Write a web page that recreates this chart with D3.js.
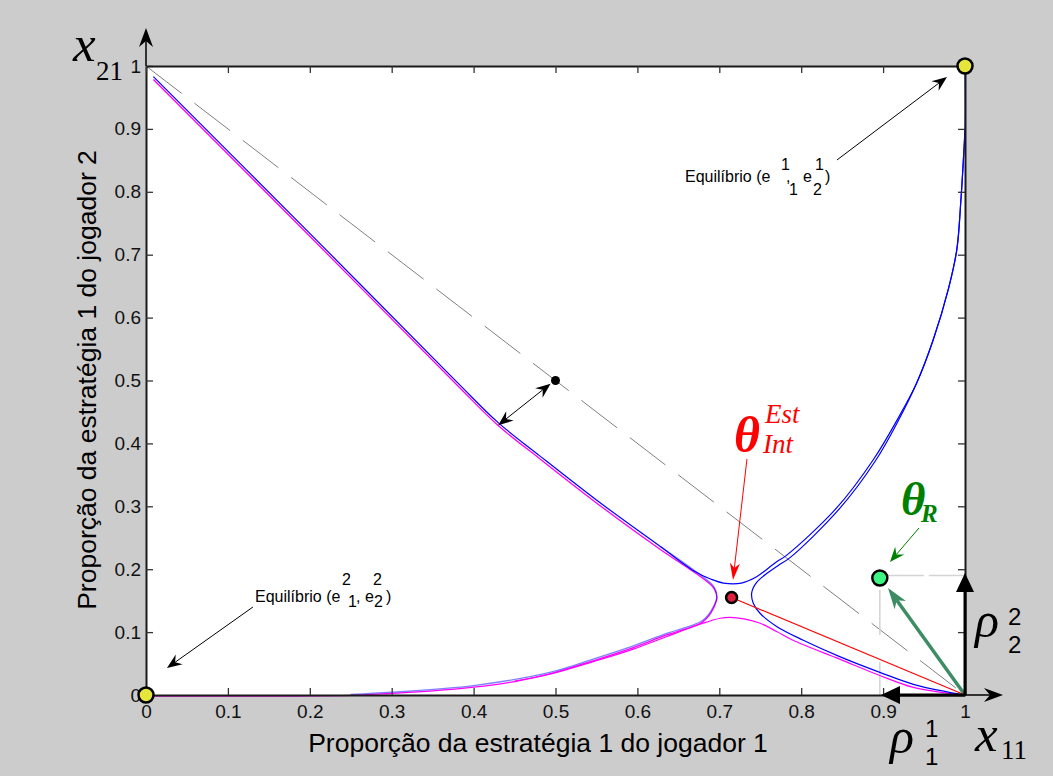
<!DOCTYPE html>
<html>
<head>
<meta charset="utf-8">
<script src="https://cdn.jsdelivr.net/npm/d3@7"></script>
<style>
  body { margin: 0; background: #cccccc; }
  svg { display: block; }
</style>
</head>
<body>
<svg id="chart"></svg>
<script>
const width = 1053, height = 776
const plot = { left: 146, right: 965, top: 66, bottom: 695 }

// tick values for both axes
const ticks = [0, 0.1, 0.2, 0.3, 0.4, 0.5, 0.6, 0.7, 0.8, 0.9, 1]
const tickLabels = ['0', '0.1', '0.2', '0.3', '0.4', '0.5', '0.6', '0.7', '0.8', '0.9', '1']

// curves (x11, x21)
const blueUpper = [[0.009,0.983],[0.2,0.734],[0.38,0.497],[0.43,0.433],[0.48,0.381],[0.55,0.31],[0.628,0.236],
  [0.668,0.198],[0.69,0.184],[0.705,0.178],[0.727,0.178],[0.7456,0.188],
  [0.77,0.212],[0.782,0.222],[0.843,0.297],[0.888,0.374],[0.917,0.437],[0.941,0.496],[0.961,0.564],[0.98,0.647],
  [0.99,0.708],[0.995,0.787],[0.998,0.85],[1,0.9],[1,1]]
const blueInner = [[1,0.9],[0.998,0.85],[0.995,0.787],[0.99,0.708],[0.98,0.647],[0.961,0.564],[0.941,0.496],
  [0.9185,0.436],[0.8905,0.372],[0.846,0.295],[0.786,0.218],[0.772,0.206],[0.76,0.195],[0.7456,0.179],
  [0.7395,0.162],[0.7415,0.146],[0.7497,0.13],[0.77,0.109],[0.8026,0.087],[0.847,0.061],[0.896,0.036],
  [0.937,0.017],[0.978,0.005],[1,0]]
const blueLower = [[0.25,0.001],[0.3,0.0045],[0.4,0.015],[0.493,0.036],[0.546,0.057],[0.595,0.078],[0.636,0.098],
  [0.665,0.11],[0.679,0.118],[0.687,0.128],[0.693,0.141],[0.697,0.156],[0.694,0.171],[0.684,0.184],[0.66,0.207],[0.628,0.236]]
const magentaSep = [[0.009,0.98],[0.2,0.731],[0.38,0.494],[0.43,0.43],[0.48,0.378],[0.55,0.307],[0.628,0.233],
  [0.66,0.205],[0.684,0.183],[0.694,0.17],[0.697,0.155],[0.693,0.14],[0.687,0.127],[0.679,0.117],[0.665,0.109],
  [0.636,0.097],[0.595,0.077],[0.546,0.056],[0.493,0.035],[0.45,0.023],[0.4,0.014],
  [0.35,0.008],[0.298,0.004],[0.25,0.001],[0.188,0],[0,0]]
const magentaHump = [[0.45,0.022],[0.493,0.033],[0.546,0.053],[0.595,0.073],[0.636,0.093],[0.68,0.114],[0.701,0.122],
  [0.713,0.1235],[0.73,0.121],[0.75,0.114],[0.77,0.101],[0.79,0.087],[0.847,0.057],[0.896,0.031],[0.937,0.012],
  [0.978,0.003],[1,0]]
const redLine = [[0.715,0.155],[1,0]]
const diagonal = [[0,1],[1,0]]

// points
const equilibria = [[0,0],[1,1]]
const interiorPoint = [0.715, 0.155]
const restPoint = [0.896, 0.186]
const midPoint = [0.5, 0.5]

const svg = d3.select('#chart').attr('width', width).attr('height', height)
const x = d3.scaleLinear().domain([0, 1]).range([plot.left, plot.right])
const y = d3.scaleLinear().domain([0, 1]).range([plot.bottom, plot.top])
const P = d => [x(d[0]), y(d[1])]

const SANS = '"Liberation Sans", Arial, sans-serif'
const SERIF = '"Liberation Serif", "Times New Roman", serif'

svg.append('rect').attr('width', width).attr('height', height).attr('fill', '#cccccc')
svg.append('rect')
  .attr('x', plot.left).attr('y', plot.top)
  .attr('width', plot.right - plot.left).attr('height', plot.bottom - plot.top)
  .attr('fill', '#ffffff')

const line = d3.line().x(d => x(d[0])).y(d => y(d[1]))
const smooth = d3.line().x(d => x(d[0])).y(d => y(d[1])).curve(d3.curveCatmullRom.alpha(0.5))

// diagonal dashed line
svg.append('path').attr('d', line(diagonal))
  .attr('fill', 'none').attr('stroke', '#808080').attr('stroke-width', 1)
  .attr('stroke-dasharray', '45,16')

// projection lines of the rest point
svg.append('path').attr('d', line([[restPoint[0], restPoint[1] + 0.004], [1, restPoint[1] + 0.004]]))
  .attr('stroke', '#d4d4d4').attr('stroke-width', 1.5).attr('stroke-dasharray', '44,5')
svg.append('path').attr('d', line([[restPoint[0], restPoint[1]], [restPoint[0], 0]]))
  .attr('stroke', '#d4d4d4').attr('stroke-width', 1.5).attr('stroke-dasharray', '0,12,45,15')

// curves
const curves = svg.append('g').attr('fill', 'none').attr('stroke-linejoin', 'round')
curves.append('path').attr('d', smooth(magentaSep)).attr('stroke', '#ff00ff').attr('stroke-width', 1.3)
  .attr('transform', 'translate(0,1)')
curves.append('path').attr('d', smooth(magentaHump)).attr('stroke', '#ff00ff').attr('stroke-width', 1.2)
curves.append('path').attr('d', smooth(blueLower)).attr('stroke', '#0000ff').attr('stroke-width', 1.3)
  .attr('stroke-opacity', 0.5)
curves.append('path').attr('d', smooth(blueUpper)).attr('stroke', '#0000ff').attr('stroke-width', 1.2)
curves.append('path').attr('d', smooth(blueInner)).attr('stroke', '#0000ff').attr('stroke-width', 1.2)
curves.append('path').attr('d', line(redLine)).attr('stroke', '#ff0000').attr('stroke-width', 1.1)

// axes (box with inward ticks)
const fmt = d => tickLabels[ticks.indexOf(d)]
const axStyle = g => {
  g.select('.domain').attr('stroke', '#1a1a1a').attr('stroke-width', 2)
  g.selectAll('.tick line').attr('stroke', '#333').attr('stroke-width', 1.3)
  g.selectAll('.tick text').attr('fill', '#111').attr('font-family', SANS).attr('font-size', 19)
}
svg.append('g').attr('transform', `translate(0,${plot.bottom})`)
  .call(d3.axisBottom(x).tickValues(ticks).tickFormat(fmt).tickSize(-7).tickSizeOuter(0).tickPadding(10))
  .call(axStyle)
svg.append('g').attr('transform', `translate(${plot.left},0)`)
  .call(d3.axisLeft(y).tickValues(ticks).tickFormat(fmt).tickSize(-7).tickSizeOuter(0).tickPadding(5))
  .call(axStyle)
svg.append('g').attr('transform', `translate(0,${plot.top})`)
  .call(d3.axisTop(x).tickValues(ticks).tickFormat('').tickSize(-7).tickSizeOuter(0))
  .call(axStyle)
svg.append('g').attr('transform', `translate(${plot.right},0)`)
  .call(d3.axisRight(y).tickValues(ticks).tickFormat('').tickSize(-7).tickSizeOuter(0))
  .call(axStyle)

// arrows
function arrow(from, to, o) {
  const a = P(from), b = P(to)
  const g = svg.append('g')
  const head = (tip, src) => {
    const dx = tip[0] - src[0], dy = tip[1] - src[1], d = Math.hypot(dx, dy)
    const ux = dx / d, uy = dy / d, nx = -uy, ny = ux
    const bx = tip[0] - o.len * ux, by = tip[1] - o.len * uy
    const mx = tip[0] - (o.len - o.notch) * ux, my = tip[1] - (o.len - o.notch) * uy
    g.append('path')
      .attr('d', `M${tip[0]},${tip[1]}L${bx + o.w * nx},${by + o.w * ny}L${mx},${my}L${bx - o.w * nx},${by - o.w * ny}Z`)
      .attr('fill', o.color)
    return [mx, my]
  }
  let end = b, start = a
  end = head(b, a)
  if (o.both) start = head(a, b)
  g.insert('line', 'path').attr('x1', start[0]).attr('y1', start[1]).attr('x2', end[0]).attr('y2', end[1])
    .attr('stroke', o.color).attr('stroke-width', o.width)
}

const thin = { color: '#000', width: 1, len: 15, w: 6, notch: 5 }
arrow([0.8437, 0.8506], [0.978, 0.9825], thin)
arrow([0.1306, 0.1399], [0.0256, 0.0429], thin)
arrow([0.494, 0.495], [0.43, 0.429], { ...thin, both: true })
arrow([0.7338, 0.3752], [0.7167, 0.1828], { color: '#ff0000', width: 1, len: 17, w: 5, notch: 5 })
arrow([0.9438, 0.2655], [0.9084, 0.2114], { color: '#008000', width: 1, len: 15, w: 6, notch: 5 })
arrow([1, 0], [0.906, 0.170], { color: '#3d8c64', width: 3.5, len: 21, w: 7, notch: 6 })
arrow([1, 0], [1.0464, 0], { color: '#000', width: 1.5, len: 19, w: 7, notch: 6 })
arrow([0, 1], [0, 1.0604], { color: '#000', width: 1.5, len: 19, w: 7, notch: 6 })
arrow([1, 0], [0.8974, 0], { color: '#000', width: 3, len: 19, w: 9, notch: 0 })
arrow([1, 0], [1, 0.194], { color: '#000', width: 3, len: 19, w: 9, notch: 0 })

// points
svg.append('circle').attr('cx', x(midPoint[0])).attr('cy', y(midPoint[1])).attr('r', 4.5).attr('fill', '#000')
svg.selectAll('.eq').data(equilibria).enter().append('circle')
  .attr('cx', d => x(d[0])).attr('cy', d => y(d[1])).attr('r', 7.5)
  .attr('fill', '#e5e53b').attr('stroke', '#000').attr('stroke-width', 2.5)
svg.append('circle').attr('cx', x(interiorPoint[0])).attr('cy', y(interiorPoint[1])).attr('r', 5.5)
  .attr('fill', '#e0203c').attr('stroke', '#000').attr('stroke-width', 2.5)
svg.append('circle').attr('cx', x(restPoint[0])).attr('cy', y(restPoint[1])).attr('r', 7.5)
  .attr('fill', '#3cf582').attr('stroke', '#000').attr('stroke-width', 2.5)

// text
function txt(px, py, s, size, o = {}) {
  return svg.append('text').attr('x', px).attr('y', py).text(s)
    .attr('font-family', o.family || SANS).attr('font-size', size)
    .attr('font-style', o.style || 'normal').attr('font-weight', o.weight || 'normal')
    .attr('fill', o.color || '#000').attr('text-anchor', o.anchor || 'start')
}

txt(538, 752, 'Proporção da estratégia 1 do jogador 1', 26.5, { anchor: 'middle' })
txt(0, 0, 'Proporção da estratégia 1 do jogador 2', 26.5, { anchor: 'middle' })
  .attr('transform', 'translate(96,380) rotate(-90)')

// equilibrium labels
txt(685, 182, 'Equilíbrio (e', 16)
txt(781, 170, '1', 16)
txt(786, 182, ',', 16)
txt(789, 195, '1', 16)
txt(803, 182, 'e', 16)
txt(815, 170, '1', 16)
txt(813, 195, '2', 16)
txt(825, 182, ')', 16)

txt(255, 602, 'Equilíbrio (e', 16)
txt(342, 585, '2', 16)
txt(348, 607, '1', 16)
txt(356, 602, ', e', 16)
txt(373, 585, '2', 16)
txt(374, 607, '2', 16)
txt(386, 602, ')', 16)

// math labels
txt(73, 61, 'x', 51, { family: SERIF, style: 'italic' })
txt(96, 80, '21', 27, { family: SERIF })
txt(975, 751, 'x', 51, { family: SERIF, style: 'italic' })
txt(1001, 759, '11', 27, { family: SERIF })
txt(975, 637, 'ρ', 50, { family: SERIF, style: 'italic' })
txt(1008, 625, '2', 24)
txt(1008, 653, '2', 24)
txt(890, 753, 'ρ', 50, { family: SERIF, style: 'italic' })
txt(925, 737, '1', 24)
txt(925, 765, '1', 24)

txt(734, 452, 'θ', 50, { family: SERIF, style: 'italic', weight: 'bold', color: '#ff0000' })
txt(765, 423, 'Est', 27, { family: SERIF, style: 'italic', color: '#ff0000' })
txt(763, 453, 'Int', 27, { family: SERIF, style: 'italic', color: '#ff0000' })
txt(901, 515, 'θ', 47, { family: SERIF, style: 'italic', weight: 'bold', color: '#008000' })
txt(921, 522, 'R', 25, { family: SERIF, style: 'italic', weight: 'bold', color: '#008000' })
</script>
</body>
</html>
